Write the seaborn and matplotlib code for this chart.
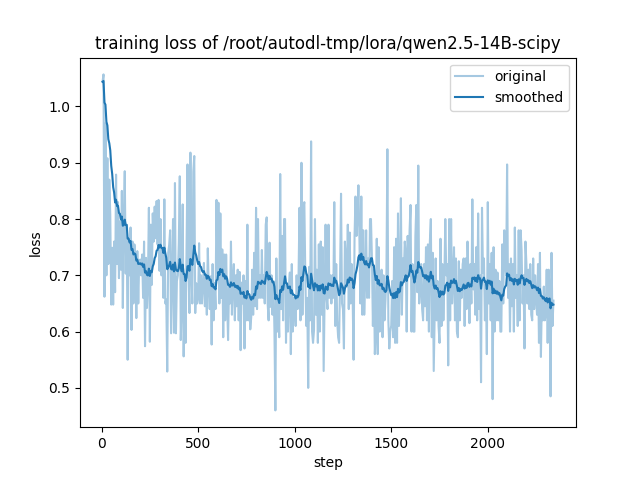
import math
import numpy as np
import pandas as pd
import matplotlib
matplotlib.use("Agg")
import matplotlib.pyplot as plt
import seaborn as sns

title = "training loss of /root/autodl-tmp/lora/qwen2.5-14B-scipy"
x_label = "step"
y_label = "loss"
logging_steps = 5

# raw loss values, one every 5 steps (5 .. 2340)
loss = [
    1.044, 1.057, 0.662, 0.970, 0.700,
    0.908, 0.720, 0.870, 0.808, 0.648,
    0.749, 0.648, 0.760, 0.670, 0.879,
    0.720, 0.830, 0.695, 0.796, 0.710,
    0.850, 0.642, 0.800, 0.885, 0.703,
    0.790, 0.550, 0.760, 0.700, 0.785,
    0.603, 0.760, 0.650, 0.755, 0.727,
    0.624, 0.743, 0.650, 0.725, 0.728,
    0.700, 0.737, 0.660, 0.760, 0.574,
    0.731, 0.642, 0.690, 0.820, 0.582,
    0.790, 0.683, 0.810, 0.760, 0.822,
    0.766, 0.832, 0.755, 0.834, 0.708,
    0.800, 0.700, 0.745, 0.660, 0.835,
    0.650, 0.657, 0.529, 0.740, 0.754,
    0.780, 0.597, 0.700, 0.800, 0.598,
    0.864, 0.597, 0.690, 0.700, 0.759,
    0.876, 0.585, 0.640, 0.826, 0.556,
    0.698, 0.580, 0.750, 0.897, 0.720,
    0.633, 0.918, 0.700, 0.650, 0.884,
    0.912, 0.633, 0.686, 0.650, 0.659,
    0.757, 0.650, 0.700, 0.650, 0.683,
    0.722, 0.645, 0.700, 0.630, 0.748,
    0.680, 0.640, 0.698, 0.577, 0.720,
    0.620, 0.686, 0.640, 0.834, 0.705,
    0.829, 0.650, 0.810, 0.660, 0.746,
    0.590, 0.737, 0.620, 0.737, 0.656,
    0.585, 0.680, 0.650, 0.760, 0.630,
    0.690, 0.720, 0.620, 0.700, 0.645,
    0.710, 0.620, 0.706, 0.567, 0.687,
    0.650, 0.700, 0.570, 0.690, 0.620,
    0.790, 0.620, 0.660, 0.604, 0.626,
    0.710, 0.630, 0.740, 0.645, 0.820,
    0.640, 0.800, 0.660, 0.700, 0.660,
    0.745, 0.660, 0.700, 0.650, 0.790,
    0.803, 0.650, 0.620, 0.758, 0.644,
    0.700, 0.630, 0.690, 0.605, 0.460,
    0.730, 0.600, 0.650, 0.590, 0.880,
    0.640, 0.770, 0.620, 0.800, 0.800,
    0.580, 0.680, 0.600, 0.680, 0.705,
    0.560, 0.720, 0.600, 0.660, 0.655,
    0.610, 0.700, 0.640, 0.700, 0.820,
    0.620, 0.900, 0.630, 0.820, 0.830,
    0.700, 0.610, 0.660, 0.500, 0.715,
    0.620, 0.938, 0.600, 0.580, 0.602,
    0.800, 0.630, 0.710, 0.580, 0.755,
    0.600, 0.760, 0.630, 0.750, 0.530,
    0.660, 0.790, 0.660, 0.640, 0.790,
    0.660, 0.700, 0.650, 0.700, 0.660,
    0.830, 0.610, 0.720, 0.620, 0.590,
    0.580, 0.700, 0.845, 0.650, 0.640,
    0.570, 0.760, 0.730, 0.680, 0.790,
    0.640, 0.776, 0.650, 0.720, 0.664,
    0.550, 0.770, 0.840, 0.770, 0.800,
    0.860, 0.770, 0.650, 0.840, 0.630,
    0.780, 0.630, 0.690, 0.780, 0.660,
    0.730, 0.660, 0.800, 0.800, 0.730,
    0.610, 0.710, 0.560, 0.600, 0.765,
    0.560, 0.750, 0.600, 0.680, 0.710,
    0.590, 0.700, 0.620, 0.655, 0.700,
    0.924, 0.620, 0.570, 0.600, 0.611,
    0.690, 0.590, 0.750, 0.580, 0.765,
    0.580, 0.810, 0.610, 0.690, 0.837,
    0.630, 0.730, 0.700, 0.760, 0.740,
    0.600, 0.770, 0.700, 0.780, 0.825,
    0.600, 0.720, 0.600, 0.600, 0.770,
    0.825, 0.670, 0.895, 0.650, 0.690,
    0.720, 0.640, 0.620, 0.720, 0.645,
    0.750, 0.620, 0.755, 0.600, 0.760,
    0.800, 0.590, 0.740, 0.530, 0.625,
    0.730, 0.620, 0.690, 0.610, 0.580,
    0.765, 0.610, 0.720, 0.620, 0.690,
    0.800, 0.700, 0.720, 0.540, 0.800,
    0.620, 0.800, 0.650, 0.690, 0.750,
    0.620, 0.730, 0.600, 0.590, 0.725,
    0.620, 0.710, 0.660, 0.720, 0.730,
    0.610, 0.730, 0.640, 0.760, 0.695,
    0.615, 0.720, 0.650, 0.835, 0.675,
    0.720, 0.630, 0.750, 0.620, 0.810,
    0.640, 0.700, 0.510, 0.820, 0.705,
    0.730, 0.620, 0.690, 0.560, 0.830,
    0.650, 0.720, 0.620, 0.740, 0.480,
    0.750, 0.600, 0.710, 0.620, 0.705,
    0.620, 0.690, 0.600, 0.600, 0.755,
    0.650, 0.780, 0.720, 0.700, 0.897,
    0.660, 0.720, 0.600, 0.730, 0.645,
    0.720, 0.600, 0.785, 0.660, 0.700,
    0.610, 0.780, 0.620, 0.780, 0.745,
    0.650, 0.700, 0.570, 0.760, 0.720,
    0.650, 0.710, 0.640, 0.720, 0.630,
    0.620, 0.730, 0.640, 0.700, 0.660,
    0.630, 0.720, 0.580, 0.740, 0.555,
    0.660, 0.620, 0.680, 0.620, 0.630,
    0.710, 0.580, 0.710, 0.670, 0.485,
    0.740, 0.610, 0.655,
]

steps = [logging_steps * (i + 1) for i in range(len(loss))]


def smooth(scalars):
    # same exponential moving average as the training tool
    last = scalars[0]
    out = []
    weight = 1.8 * (1 / (1 + math.exp(-0.05 * len(scalars))) - 0.5)
    for v in scalars:
        last = last * weight + (1 - weight) * v
        out.append(last)
    return out


df = pd.DataFrame({"step": steps, "original": loss, "smoothed": smooth(loss)})

fig, ax = plt.subplots(figsize=(6.4, 4.8), dpi=100)
sns.lineplot(data=df, x="step", y="original", color="#1f77b4", alpha=0.4,
             label="original", ax=ax, estimator=None, sort=False)
sns.lineplot(data=df, x="step", y="smoothed", color="#1f77b4",
             label="smoothed", ax=ax, estimator=None, sort=False)
ax.set_title(title)
ax.set_xlabel(x_label)
ax.set_ylabel(y_label)
ax.legend(loc="best")
fig.savefig("out.png", dpi=100)
